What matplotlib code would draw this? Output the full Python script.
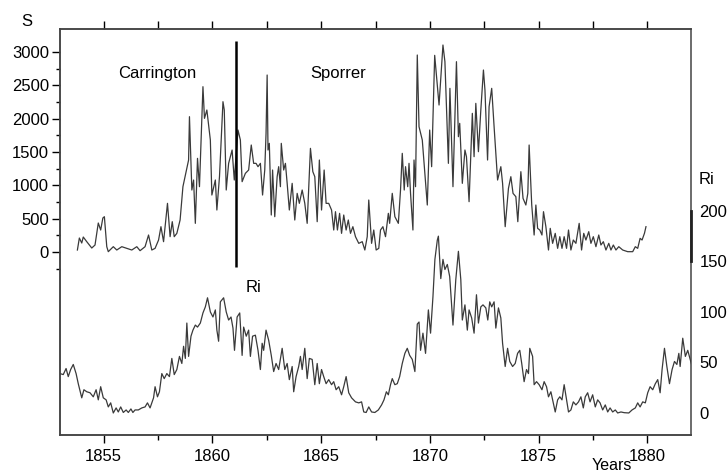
import matplotlib
matplotlib.use("Agg")
import matplotlib.pyplot as plt
from matplotlib.ticker import MultipleLocator, FixedLocator

# ── Data ──────────────────────────────────────────────────────────────────────
s_years = [
    1853.80, 1853.89, 1854.00, 1854.07, 1854.23, 1854.46, 1854.61, 1854.76, 1854.87, 1854.97,
    1855.04, 1855.15, 1855.22, 1855.45, 1855.61, 1855.84, 1856.07, 1856.30, 1856.53, 1856.68,
    1856.91, 1857.07, 1857.22, 1857.37, 1857.53, 1857.64, 1857.76, 1857.94, 1858.06, 1858.16,
    1858.25, 1858.37, 1858.52, 1858.65, 1858.91, 1858.95, 1859.06, 1859.14, 1859.22, 1859.32,
    1859.41, 1859.57, 1859.64, 1859.75, 1859.91, 1859.98, 1860.14, 1860.21, 1860.33, 1860.49,
    1860.55, 1860.64, 1860.75, 1860.91, 1861.01, 1861.18, 1861.29, 1861.37, 1861.52, 1861.67,
    1861.79, 1861.90, 1862.01, 1862.10, 1862.21, 1862.31, 1862.41, 1862.47, 1862.52, 1862.56,
    1862.62, 1862.71, 1862.77, 1862.87, 1862.98, 1863.05, 1863.13, 1863.17, 1863.28, 1863.36,
    1863.44, 1863.54, 1863.67, 1863.79, 1863.90, 1864.00, 1864.13, 1864.25, 1864.36, 1864.51,
    1864.62, 1864.71, 1864.82, 1864.92, 1865.02, 1865.14, 1865.23, 1865.35, 1865.48, 1865.58,
    1865.66, 1865.75, 1865.85, 1865.94, 1866.04, 1866.15, 1866.25, 1866.35, 1866.46, 1866.58,
    1866.73, 1866.89, 1867.01, 1867.12, 1867.19, 1867.32, 1867.42, 1867.53, 1867.65, 1867.73,
    1867.84, 1867.96, 1868.09, 1868.15, 1868.27, 1868.39, 1868.55, 1868.65, 1868.73, 1868.82,
    1868.88, 1868.98, 1869.04, 1869.11, 1869.22, 1869.27, 1869.34, 1869.42, 1869.50, 1869.65,
    1869.88, 1869.99, 1870.08, 1870.22, 1870.42, 1870.60, 1870.69, 1870.85, 1870.92, 1871.06,
    1871.22, 1871.31, 1871.37, 1871.49, 1871.61, 1871.68, 1871.80, 1871.95, 1872.03, 1872.11,
    1872.23, 1872.34, 1872.46, 1872.53, 1872.65, 1872.72, 1872.84, 1872.95, 1873.11, 1873.26,
    1873.34, 1873.46, 1873.61, 1873.72, 1873.82, 1873.95, 1874.04, 1874.18, 1874.28, 1874.41,
    1874.50, 1874.56, 1874.68, 1874.79, 1874.87, 1874.95, 1875.05, 1875.15, 1875.22, 1875.33,
    1875.45, 1875.53, 1875.64, 1875.76, 1875.87, 1875.97, 1876.07, 1876.17, 1876.28, 1876.37,
    1876.48, 1876.59, 1876.71, 1876.86, 1876.97, 1877.07, 1877.17, 1877.30, 1877.40, 1877.51,
    1877.63, 1877.76, 1877.86, 1877.97, 1878.09, 1878.22, 1878.32, 1878.43, 1878.55, 1878.68,
    1878.86, 1879.09, 1879.32, 1879.44, 1879.55, 1879.66, 1879.75, 1879.86, 1879.93,
]
s_values = [
    30, 210, 135, 225, 155, 60, 105, 435, 330, 510,
    530, 80, 5, 80, 30, 80, 55, 30, 80, 20,
    80, 255, 30, 55, 180, 380, 155, 730, 230, 455,
    230, 280, 480, 980, 1380, 2030, 930, 1080, 430, 1405,
    980, 2480, 2005, 2130, 1680, 855, 1080, 630, 1130, 2255,
    2130, 930, 1330, 1530, 1080, 1830, 1680, 1055, 1180, 1230,
    1605, 1330, 1330, 1280, 1330, 855, 1230, 1780, 2655, 1530,
    1630, 555, 1230, 530, 1130, 1280, 980, 1630, 1230, 1330,
    1030, 630, 1030, 480, 880, 730, 930, 730, 430, 1555,
    1205, 1130, 455, 1380, 630, 1230, 730, 730, 630, 330,
    605, 330, 580, 280, 555, 330, 480, 280, 380, 230,
    130, 155, 30, 230, 780, 130, 330, 30, 55, 330,
    380, 230, 580, 430, 880, 530, 430, 930, 1480, 930,
    1280, 980, 1330, 880, 330, 1380, 980, 2955, 1880, 1680,
    705, 1830, 1280, 2950, 2205, 3105, 2855, 1330, 2455, 980,
    2855, 1730, 1930, 1030, 1530, 1430, 755, 2080, 1430, 2230,
    1505, 2130, 2730, 2430, 1380, 2180, 2455, 1880, 1080, 1280,
    1030, 380, 955, 1130, 880, 830, 455, 1205, 805, 705,
    880, 1605, 705, 255, 705, 355, 330, 255, 605, 380,
    30, 355, 130, 280, 55, 230, 55, 230, 55, 330,
    30, 180, 130, 430, 30, 280, 180, 305, 130, 230,
    80, 255, 105, 155, 30, 130, 30, 105, 30, 80,
    30, 5, 5, 80, 55, 205, 180, 280, 380,
]

ri_years = [
    1853.00, 1853.15, 1853.28, 1853.38, 1853.49, 1853.61, 1853.74, 1853.84, 1854.00, 1854.10,
    1854.23, 1854.38, 1854.53, 1854.66, 1854.76, 1854.87, 1854.99, 1855.12, 1855.22, 1855.33,
    1855.45, 1855.58, 1855.68, 1855.79, 1855.91, 1856.04, 1856.14, 1856.26, 1856.35, 1856.45,
    1856.60, 1856.76, 1856.91, 1857.02, 1857.14, 1857.30, 1857.37, 1857.48, 1857.57, 1857.68,
    1857.79, 1857.91, 1858.03, 1858.14, 1858.25, 1858.37, 1858.49, 1858.60, 1858.68, 1858.76,
    1858.83, 1858.91, 1859.02, 1859.11, 1859.22, 1859.32, 1859.45, 1859.57, 1859.68, 1859.78,
    1859.91, 1860.03, 1860.14, 1860.21, 1860.29, 1860.37, 1860.52, 1860.64, 1860.75, 1860.86,
    1860.95, 1861.02, 1861.14, 1861.26, 1861.37, 1861.44, 1861.56, 1861.67, 1861.75, 1861.85,
    1861.98, 1862.10, 1862.21, 1862.29, 1862.36, 1862.47, 1862.59, 1862.71, 1862.82, 1862.93,
    1863.05, 1863.21, 1863.33, 1863.44, 1863.54, 1863.67, 1863.74, 1863.85, 1863.97, 1864.05,
    1864.13, 1864.25, 1864.36, 1864.46, 1864.59, 1864.71, 1864.82, 1864.92, 1865.02, 1865.12,
    1865.23, 1865.35, 1865.48, 1865.58, 1865.69, 1865.81, 1865.94, 1866.04, 1866.15, 1866.27,
    1866.40, 1866.58, 1866.73, 1866.86, 1866.96, 1867.07, 1867.19, 1867.32, 1867.47, 1867.63,
    1867.78, 1867.89, 1868.00, 1868.09, 1868.19, 1868.27, 1868.39, 1868.50, 1868.61, 1868.73,
    1868.85, 1868.96, 1869.07, 1869.19, 1869.31, 1869.42, 1869.50, 1869.57, 1869.68, 1869.80,
    1869.93, 1870.03, 1870.14, 1870.23, 1870.34, 1870.39, 1870.50, 1870.60, 1870.69, 1870.80,
    1870.91, 1871.06, 1871.19, 1871.31, 1871.42, 1871.49, 1871.61, 1871.72, 1871.80, 1871.92,
    1872.03, 1872.14, 1872.23, 1872.34, 1872.44, 1872.57, 1872.66, 1872.75, 1872.84, 1872.95,
    1873.03, 1873.15, 1873.26, 1873.34, 1873.46, 1873.57, 1873.67, 1873.80, 1873.92, 1874.03,
    1874.13, 1874.22, 1874.33, 1874.44, 1874.53, 1874.59, 1874.72, 1874.79, 1874.90, 1875.02,
    1875.15, 1875.25, 1875.36, 1875.45, 1875.56, 1875.64, 1875.76, 1875.87, 1875.97, 1876.07,
    1876.17, 1876.28, 1876.37, 1876.48, 1876.59, 1876.71, 1876.83, 1876.94, 1877.05, 1877.14,
    1877.25, 1877.36, 1877.48, 1877.60, 1877.71, 1877.82, 1877.94, 1878.06, 1878.17, 1878.28,
    1878.40, 1878.52, 1878.63, 1878.78, 1878.93, 1879.14, 1879.29, 1879.44, 1879.55, 1879.66,
    1879.78, 1879.90, 1880.01, 1880.12, 1880.24, 1880.36, 1880.47, 1880.58, 1880.67, 1880.78,
    1880.89, 1881.01, 1881.13, 1881.24, 1881.35, 1881.44, 1881.50, 1881.62, 1881.74, 1881.85,
    1881.96, 1882.05,
]
ri_values = [
    39, 38, 44, 36, 43, 48, 39, 29, 15, 23,
    21, 20, 16, 23, 13, 26, 15, 13, 6, 10,
    0, 5, 1, 6, 0.5, 3, 0.5, 4, 0.5, 3,
    3, 5, 6, 10, 5, 15, 26, 16, 21, 39,
    34, 39, 36, 54, 38, 43, 56, 49, 66, 54,
    89, 56, 76, 82, 87, 85, 89, 99, 105, 114,
    100, 95, 102, 82, 71, 110, 114, 100, 92, 95,
    84, 62, 95, 99, 57, 85, 76, 82, 56, 76,
    77, 62, 43, 69, 62, 82, 72, 57, 41, 49,
    43, 64, 43, 49, 33, 46, 21, 36, 46, 56,
    43, 64, 34, 54, 53, 28, 49, 29, 43, 36,
    29, 33, 28, 31, 23, 26, 18, 26, 36, 20,
    15, 11, 10, 11, 1, 0.5, 6, 1, 0.5, 3,
    8, 13, 21, 18, 28, 34, 28, 29, 36, 49,
    59, 64, 57, 53, 41, 88, 90, 62, 79, 59,
    102, 79, 115, 152, 171, 175, 133, 152, 142, 147,
    135, 87, 132, 160, 132, 92, 107, 82, 102, 94,
    79, 117, 89, 105, 107, 104, 92, 110, 105, 110,
    84, 104, 94, 69, 46, 64, 51, 46, 49, 59,
    62, 49, 31, 43, 39, 64, 56, 28, 31, 28,
    23, 31, 26, 16, 21, 13, 1, 13, 16, 13,
    28, 13, 1, 3, 11, 8, 11, 16, 5, 16,
    20, 11, 18, 6, 13, 10, 3, 8, 1, 5,
    1, 3, 0, 1, 0.3, 0, 3, 5, 10, 6,
    11, 10, 20, 26, 23, 29, 33, 20, 43, 64,
    46, 29, 43, 51, 48, 59, 46, 74, 56, 62,
    53, 46,
]

x_major = [1855, 1860, 1865, 1870, 1875, 1880]
s_ticks = [0, 500, 1000, 1500, 2000, 2500, 3000]
ri_ticks = [0, 50, 100, 150, 200]

marker_year = 1861.1          # vertical bar between the two labels
marker_span = (-225, 3165)

LINE = "#3a3a3a"
FONT = "Liberation Sans"
plt.rcParams["font.family"] = [FONT, "DejaVu Sans"]

# ── Figure ────────────────────────────────────────────────────────────────────
fig = plt.figure(figsize=(7.28, 4.75), dpi=100)
ax = fig.add_axes([0.0824, 0.0842, 0.8668, 0.8547])
ax2 = ax.twinx()

ax.plot(s_years, s_values, color=LINE, linewidth=0.9)
ax2.plot(ri_years, ri_values, color=LINE, linewidth=0.9)
ax.vlines(marker_year, *marker_span, color="black", linewidth=1.8)

ax.set_xlim(1853, 1882)
ax.set_ylim(-2745, 3345)
ax2.set_ylim(-21.8, 380)

# x axis: outward ticks bottom and top
ax.xaxis.set_major_locator(FixedLocator(x_major))
ax.xaxis.set_minor_locator(MultipleLocator(2.5))
ax.tick_params(axis="x", which="major", direction="out", length=6, width=1,
               labelsize=12, top=True, pad=4)
ax.tick_params(axis="x", which="minor", direction="out", length=3.5, width=1,
               top=True)
ax.xaxis.set_tick_params(which="both", labeltop=False)
# top ticks all the same length
for t in ax.xaxis.get_minor_ticks():
    t.tick2line.set_markersize(6)

# left S axis
ax.yaxis.set_major_locator(FixedLocator(s_ticks))
ax.yaxis.set_minor_locator(FixedLocator(list(range(-250, 3000, 500))))
ax.tick_params(axis="y", which="major", direction="out", length=6, width=1,
               labelsize=12, pad=2)
ax.tick_params(axis="y", which="minor", direction="out", length=3, width=1)

# right Ri axis: labels only
ax2.yaxis.set_major_locator(FixedLocator(ri_ticks))
ax2.tick_params(axis="y", which="major", length=0, labelsize=12, pad=6)

for a in (ax, ax2):
    for sp in a.spines.values():
        sp.set_color("#444444")
        sp.set_linewidth(1.1)
ax2.spines["right"].set_bounds(150, 200)
ax2.spines["right"].set_linewidth(2.0)
ax2.spines["right"].set_color("#222222")

# annotations
ax.text(1857.45, 2685, "Carrington", fontsize=12, ha="center", va="center")
ax.text(1865.78, 2685, "Sporrer", fontsize=12, ha="center", va="center")
ax2.text(1861.52, 124, "Ri", fontsize=12, ha="left", va="center")
fig.text(27 / 728, 1 - 21 / 475, "S", fontsize=12, ha="center", va="center")
fig.text(706 / 728, 1 - 179 / 475, "Ri", fontsize=12, ha="center", va="center")
fig.text(612 / 728, 0.004, "Years", fontsize=11.5, ha="center", va="bottom")

fig.savefig("out.png", dpi=100)
